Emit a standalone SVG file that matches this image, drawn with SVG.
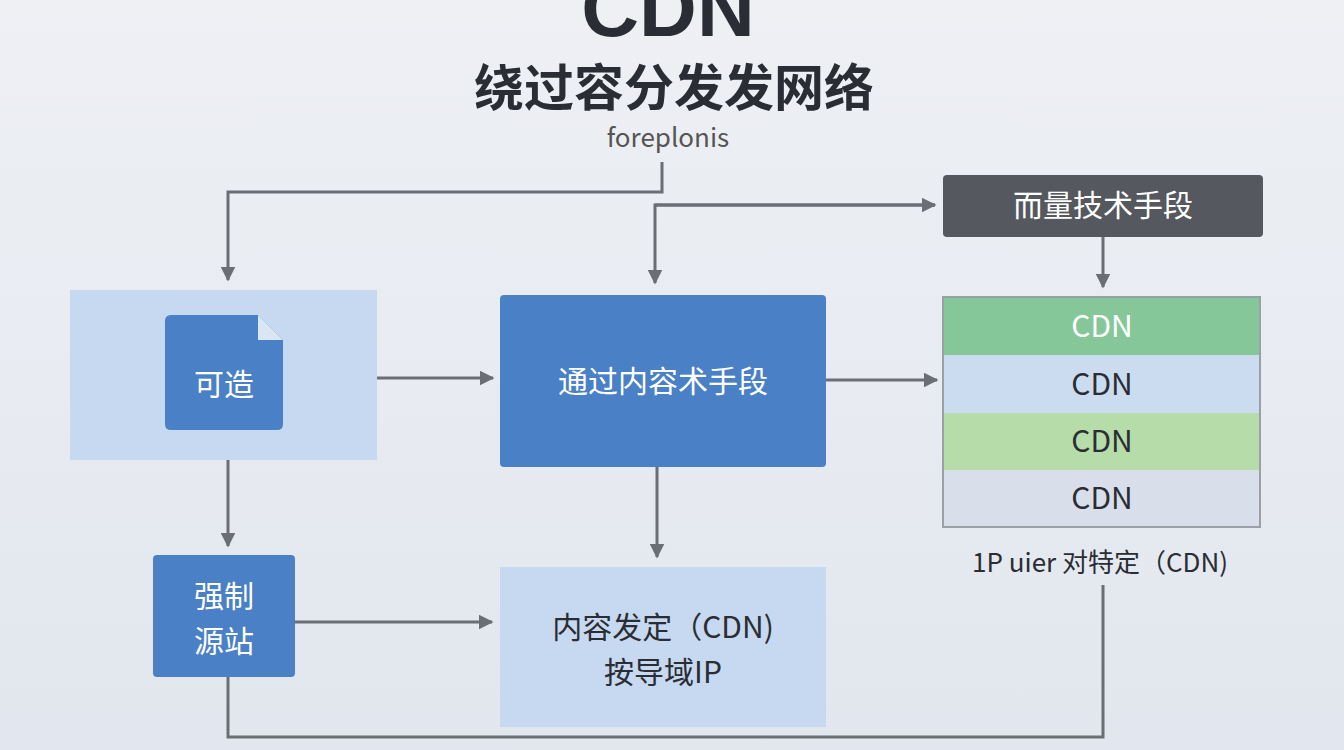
<svg xmlns="http://www.w3.org/2000/svg" width="1344" height="750" viewBox="0 0 1344 750">
<style>
text{font-family:"Noto Sans CJK SC","Noto Sans",sans-serif;text-anchor:middle}
.c{fill:none;stroke:#6b6e74;stroke-width:3}
.w{fill:#fff;font-size:30px}
.d{fill:#2a2d33;font-size:30px}
</style>
<defs>
<marker id="a" viewBox="0 0 10 10" refX="9" refY="5" markerWidth="5" markerHeight="5" orient="auto"><path d="M0,0L10,5L0,10z" fill="#6b6e74"/></marker>
<linearGradient id="bg" x1="0" y1="0" x2="0" y2="1"><stop offset="0" stop-color="#eef0f4"/><stop offset="1" stop-color="#e2e6ee"/></linearGradient>
</defs>
<rect width="1344" height="750" fill="url(#bg)"/>
<text x="668" y="36" font-size="80" font-weight="bold" fill="#2a2d33" style="font-family:'Liberation Sans',sans-serif">CDN</text>
<text x="674" y="106" font-size="50" font-weight="bold" fill="#2a2d33">绕过容分发发网络</text>
<text x="668" y="147" font-size="26" fill="#555">foreplonis</text>
<g id="connectors">
<path class="c" d="M662,162V192H228V280" marker-end="url(#a)"/>
<path class="c" d="M935,205H655V283" marker-end="url(#a)"/>
<path class="c" d="M655,205H935" marker-end="url(#a)"/>
<path class="c" d="M1103,237V287" marker-end="url(#a)"/>
<path class="c" d="M377,378H493" marker-end="url(#a)"/>
<path class="c" d="M826,380H937" marker-end="url(#a)"/>
<path class="c" d="M657,467V557" marker-end="url(#a)"/>
<path class="c" d="M228,460V546" marker-end="url(#a)"/>
<path class="c" d="M295,622H492" marker-end="url(#a)"/>
<path class="c" d="M228,677V737H1103V585"/>
</g>
<g id="n-top"><rect x="943" y="175" width="320" height="62" rx="4" fill="#55585e"/><text class="w" x="1103" y="216">而量技术手段</text></g>
<g id="n-stack">
<rect x="943" y="297" width="317" height="58" fill="#86c79a"/>
<rect x="943" y="355" width="317" height="58" fill="#ccdcf0"/>
<rect x="943" y="413" width="317" height="57" fill="#b5dca9"/>
<rect x="943" y="470" width="317" height="57" fill="#d9dfea"/>
<rect x="943" y="297" width="317" height="230" fill="none" stroke="#9aa0a8" stroke-width="2"/>
<text class="w" x="1102" y="337">CDN</text>
<text class="d" x="1102" y="395">CDN</text>
<text class="d" x="1102" y="452">CDN</text>
<text class="d" x="1102" y="509">CDN</text>
</g>
<text x="1100" y="572" font-size="26" fill="#2a2d33">1P uier 对特定（CDN)</text>
<g id="n-left"><rect x="70" y="290" width="307" height="170" fill="#c6d9f1"/>
<path d="M171,315H258L283,340V424Q283,430 277,430H171Q165,430 165,424V321Q165,315 171,315z" fill="#4a80c6"/><path d="M258,315V340H283z" fill="#dbe6f5"/>
<text class="w" x="224" y="395">可造</text></g>
<g id="n-mid"><rect x="500" y="295" width="326" height="172" rx="4" fill="#4a80c6"/><text class="w" x="663" y="392">通过内容术手段</text></g>
<g id="n-src"><rect x="153" y="555" width="142" height="122" rx="4" fill="#4a80c6"/><text class="w" x="224" y="607">强制</text><text class="w" x="224" y="652">源站</text></g>
<g id="n-bot"><rect x="500" y="567" width="326" height="160" fill="#c6d9f1"/><text class="d" x="663" y="638">内容发定（CDN)</text><text class="d" x="663" y="683">按导域IP</text></g>
</svg>
